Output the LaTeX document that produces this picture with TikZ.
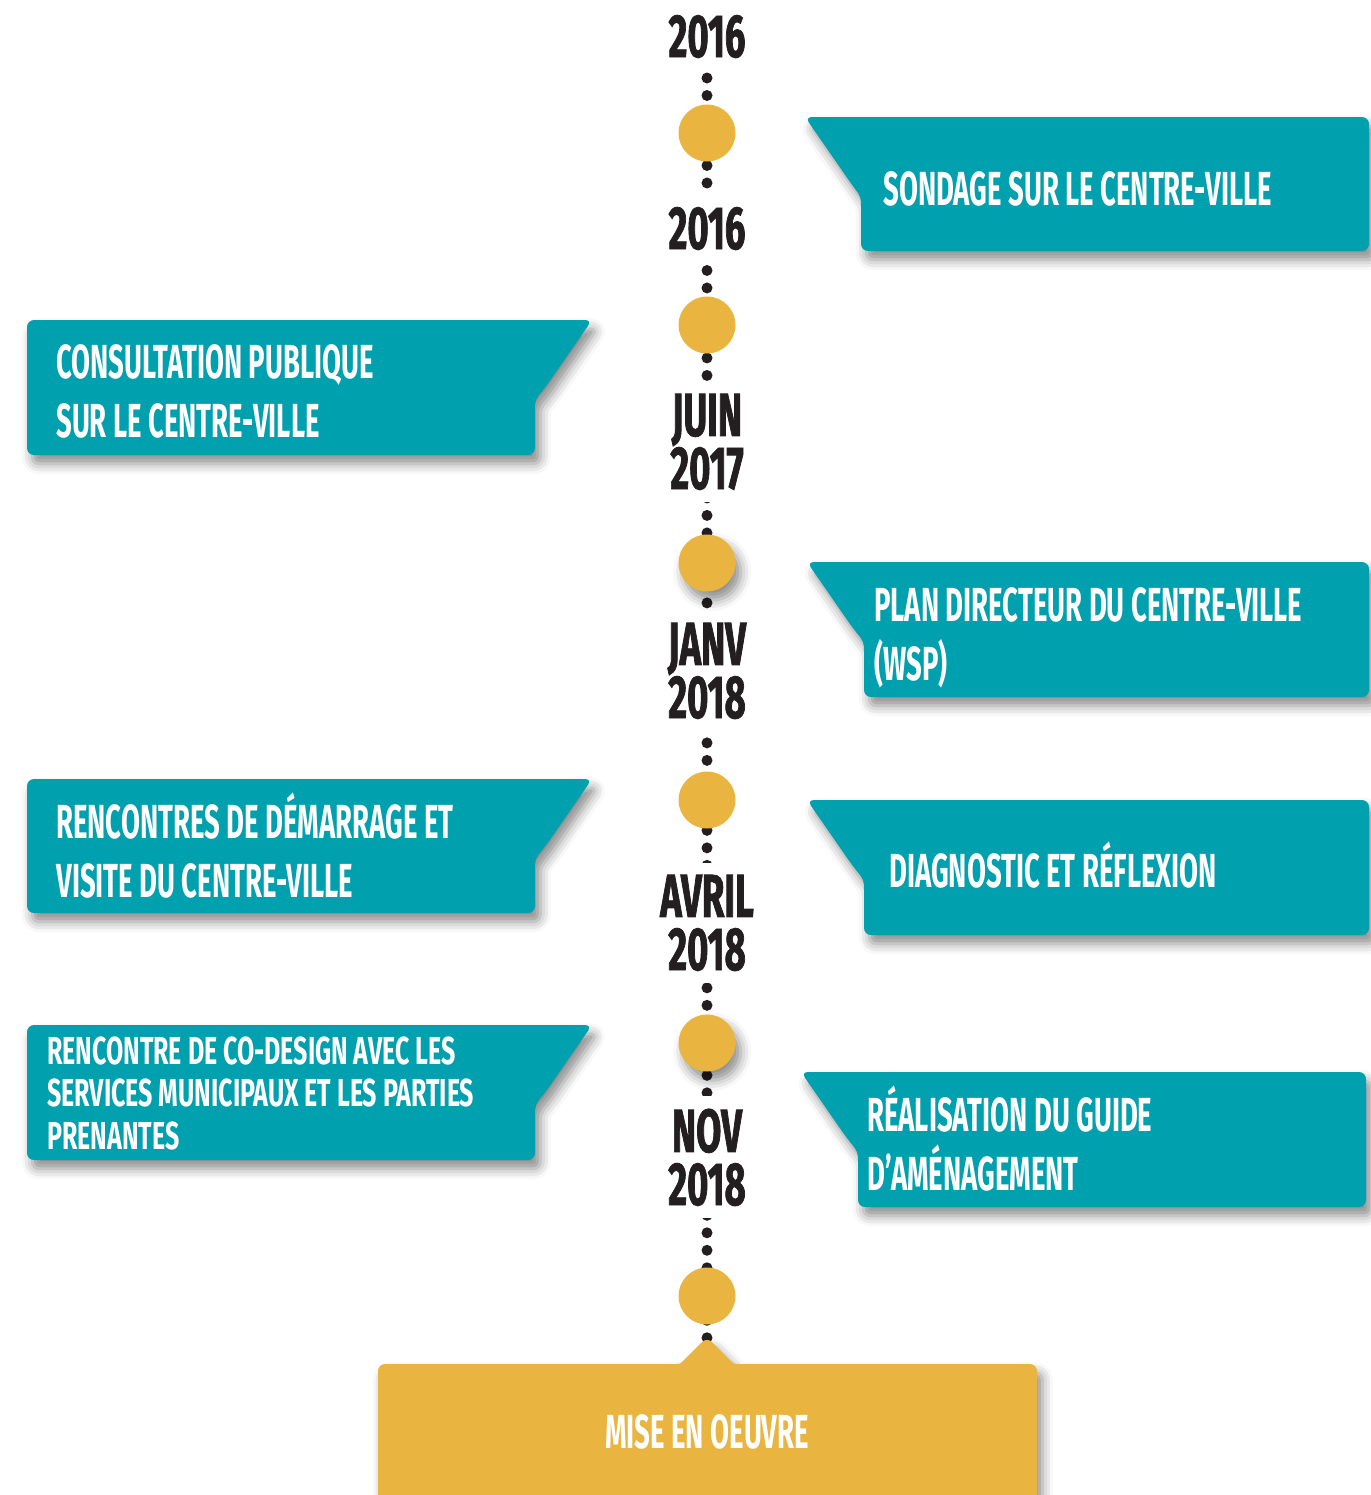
\documentclass[tikz,border=0pt]{standalone}
\usepackage{fontspec}
\newfontfamily\condfont{Fira Sans}[FakeStretch=0.575]
\newfontfamily\widecondfont{Fira Sans}[FakeStretch=0.64]
\newfontfamily\datefont{Fira Sans}[FakeStretch=0.6, BoldFeatures={FakeBold=1.2}]
\usetikzlibrary{shadows.blur}
\definecolor{flagteal}{HTML}{00A0AE}
\definecolor{flagyellow}{HTML}{E9B540}
\definecolor{dateink}{HTML}{231F20}

\begin{document}
\begin{tikzpicture}[x=0.02cm, y=-0.02cm,
  softshadow/.style={blur shadow={shadow xshift=3pt, shadow yshift=-5pt, shadow blur radius=6pt, shadow opacity=45}},
  flagbox/.style={fill=flagteal, rounded corners=4pt, softshadow},
  flagtext/.style={font={\condfont\bfseries\fontsize{27.2}{33.5}\selectfont}, text=white, align=left, inner sep=0pt, anchor=base west},
  smalltext/.style={flagtext, font={\widecondfont\bfseries\fontsize{22.2}{24.1}\selectfont}},
  datelabel/.style={font={\datefont\bfseries\fontsize{34.6}{30.2}\selectfont}, text=dateink, fill=white, align=center, inner xsep=2pt, inner ysep=7pt, anchor=base},
  milestone/.style={circle, fill=flagyellow, minimum size=1.14cm, inner sep=0pt}]
\useasboundingbox (0,0) rectangle (1371,1495);

% Axis
\coordinate (axistop) at (707,78);
\coordinate (axisend) at (707,1340);
\draw[dateink, line width=0.22cm, line cap=round, dash pattern=on 0pt off 0.35cm] (axistop) -- (axisend);

% Dates (anchored on the last line)
\node[datelabel] (d1) at (707,57) {2016};
\node[datelabel] (d2) at (707,249) {2016};
\node[datelabel] (d3) at (707,489) {JUIN\\2017};
\node[datelabel] (d4) at (707,718) {JANV\\2018};
\node[datelabel] (d5) at (707,970) {AVRIL\\2018};
\node[datelabel] (d6) at (707,1205) {NOV\\2018};

% Milestones
\node[milestone] (m1) at (707,133) {};
\node[milestone] (m2) at (707,325) {};
\node[milestone, softshadow] (m3) at (707,563) {};
\node[milestone] (m4) at (707,800) {};
\node[milestone, softshadow] (m5) at (707,1043) {};
\node[milestone] (m6) at (707,1296) {};

% Right flags
\path[flagbox] (805,117) -- (850,182) .. controls (861,197) .. (861,215) -- (861,251) -- (1369,251) -- (1369,117) -- cycle;
\path[flagbox] (807,562) -- (852,627) .. controls (864,642) .. (864,660) -- (864,697) -- (1369,697) -- (1369,562) -- cycle;
\path[flagbox] (807,800) -- (852,865) .. controls (864,880) .. (864,898) -- (864,935) -- (1369,935) -- (1369,800) -- cycle;
\path[flagbox] (801,1072) -- (846,1137) .. controls (858,1152) .. (858,1170) -- (858,1207) -- (1366,1207) -- (1366,1072) -- cycle;

% Left flags
\path[flagbox] (592,320) -- (547,385) .. controls (535,400) .. (535,418) -- (535,455) -- (27,455) -- (27,320) -- cycle;
\path[flagbox] (592,779) -- (547,844) .. controls (535,859) .. (535,877) -- (535,913) -- (27,913) -- (27,779) -- cycle;
\path[flagbox] (592,1025) -- (547,1090) .. controls (535,1105) .. (535,1123) -- (535,1160) -- (27,1160) -- (27,1025) -- cycle;

% Final step
\path[fill=flagyellow, rounded corners=4pt, softshadow] (378,1364) -- (668,1364) .. controls (680,1364) .. (688,1356) -- (707,1337) -- (726,1356) .. controls (734,1364) .. (746,1364) -- (1037,1364) -- (1037,1530) -- (378,1530) -- cycle;

% Labels (anchored on the last line)
\node[flagtext] (sondage) at (883,205) {SONDAGE SUR LE CENTRE-VILLE};
\node[flagtext] (consult) at (56,437) {CONSULTATION PUBLIQUE\\SUR LE CENTRE-VILLE};
\node[flagtext] (plan) at (874,680) {PLAN DIRECTEUR DU CENTRE-VILLE\\(WSP)};
\node[flagtext] (visite) at (56,897) {RENCONTRES DE DÉMARRAGE ET\\VISITE DU CENTRE-VILLE};
\node[flagtext] (diag) at (889,887) {DIAGNOSTIC ET RÉFLEXION};
\node[smalltext] (codesign) at (47,1149) {RENCONTRE DE CO-DESIGN AVEC LES\\SERVICES MUNICIPAUX ET LES PARTIES\\PRENANTES};
\node[flagtext] (guide) at (867,1190) {RÉALISATION DU GUIDE\\D’AMÉNAGEMENT};
\node[flagtext, anchor=center] (oeuvre) at (707,1432) {MISE EN OEUVRE};
\end{tikzpicture}
\end{document}
